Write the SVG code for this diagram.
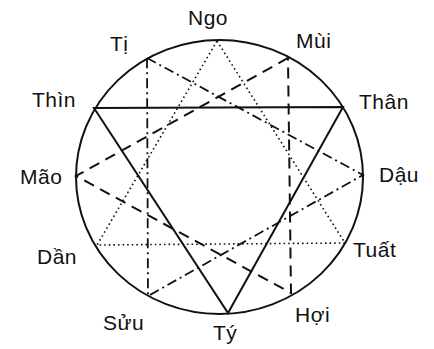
<svg xmlns="http://www.w3.org/2000/svg" width="434" height="349" viewBox="0 0 434 349">
<style>
.lbl{font-family:"Liberation Sans",Arial,sans-serif;font-size:21px;fill:#111;letter-spacing:0.5px}
.c{fill:none;stroke:#111;stroke-width:2}
.solid{fill:none;stroke:#111;stroke-width:2;stroke-linejoin:miter}
.dash{fill:none;stroke:#111;stroke-width:2;stroke-dasharray:11 7}
.dashdot{fill:none;stroke:#111;stroke-width:1.8;stroke-dasharray:10 4 2 4}
.dot{fill:none;stroke:#111;stroke-width:1.6;stroke-dasharray:1.6 3}
</style>
<rect width="434" height="349" fill="#fff"/>
<g id="circle"><ellipse class="c" cx="219.5" cy="177" rx="143.5" ry="137"/></g>
<g id="connectors">
<polygon class="solid" points="94,108 343,107 228,313"/>
<polygon class="dash" points="288,58 76,176 291,293"/>
<polygon class="dashdot" points="147,58 363,175 148,296"/>
<polygon class="dot" points="217,41 345,243 97,245"/>
</g>
<g id="ngo"><text class="lbl" x="188" y="25">Ngo</text></g>
<g id="ti"><text class="lbl" x="110" y="51">Tị</text></g>
<g id="mui"><text class="lbl" x="296" y="48">Mùi</text></g>
<g id="thin"><text class="lbl" x="32" y="107">Thìn</text></g>
<g id="than"><text class="lbl" x="359" y="109">Thân</text></g>
<g id="mao"><text class="lbl" x="20" y="184">Mão</text></g>
<g id="dau"><text class="lbl" x="379" y="182">Dậu</text></g>
<g id="dan"><text class="lbl" x="37" y="264">Dần</text></g>
<g id="tuat"><text class="lbl" x="353" y="257">Tuất</text></g>
<g id="suu"><text class="lbl" x="103" y="330">Sửu</text></g>
<g id="ty"><text class="lbl" x="213" y="340">Tý</text></g>
<g id="hoi"><text class="lbl" x="295" y="322">Hợi</text></g>
</svg>
